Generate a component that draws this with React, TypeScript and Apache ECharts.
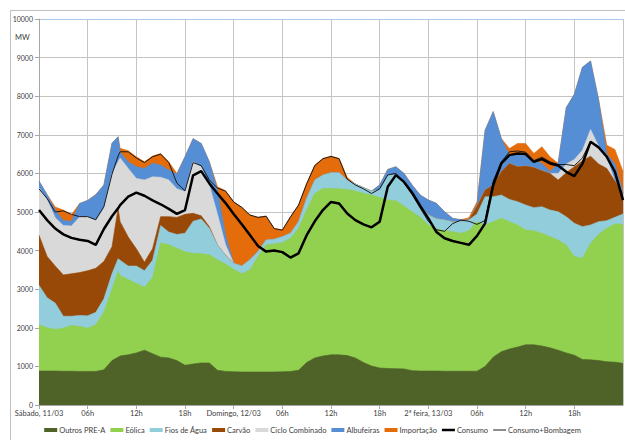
import React, { useEffect, useRef } from 'react';
import * as echarts from 'echarts';

// time in hours from Saturday 11/03 00h
const hours = [0,1,2,3,4,5,6,7,8,9,9.75,10,11,12,13,14,15,16,17,18,19,20,21,22,23,24,25,26,27,28,29,30,31,32,33,34,35,36,37,38,39,40,41,42,43,44,45,46,47,48,49,50,51,52,53,54,55,56,57,58,59,60,61,62,63,64,65,66,67,68,69,70,71,72];

const tickLabels = ['Sábado, 11/03','06h','12h','18h','Domingo, 12/03','06h','12h','18h','2ª feira, 13/03','06h','12h','18h',''];

const outrosPreA = [880,880,880,875,875,870,870,870,910,1150,1240,1270,1300,1350,1420,1330,1240,1220,1150,1030,1060,1090,1090,900,870,860,855,855,855,855,855,860,870,900,1100,1220,1270,1300,1300,1280,1220,1100,1010,960,945,940,935,890,880,880,880,875,875,875,875,875,1000,1240,1380,1450,1500,1560,1560,1530,1480,1420,1350,1290,1180,1170,1150,1120,1110,1080];
const eolica = [1200,1120,1080,1115,1185,1170,1120,1210,1490,1850,2220,2080,1950,1800,1630,1970,2960,2930,2910,2940,2870,2830,2800,2860,2780,2660,2545,2645,2990,3295,3317,3347,3450,3677,3952,4262,4342,4312,4300,4306,4323,4382,4429,4418,4365,4353,4220,4118,3982,3784,3689,3642,3616,3573,3642,3875,3664,3510,3456,3300,3164,2974,2957,2918,2882,2856,2797,2555,2622,3020,3272,3457,3580,3600];
const fiosDeAgua = [1020,780,680,310,240,280,320,320,350,400,330,400,350,450,430,450,450,330,360,480,830,900,687,387,230,153,200,260,129,126,121,155,128,173,301,345,344,405,417,241,181,147,104,190,646,663,586,431,293,258,258,276,259,302,276,200,732,646,603,577,603,647,595,690,690,732,732,862,819,474,328,199,172,270];
const carvao = [1300,1070,960,1070,1100,1110,1170,1140,970,700,1310,1000,750,450,220,300,230,400,440,490,205,80,43,0,0,0,0,0,0,0,0,0,0,0,0,0,0,0,0,0,0,0,0,0,0,0,0,0,0,0,0,0,0,0,0,200,172,302,603,931,905,1008,1043,930,948,819,1138,1465,1706,1783,1491,1353,938,550];
const cicloCombinado = [1230,1470,1250,1280,1240,1440,1400,1240,1380,1900,1200,1650,1780,1820,2130,1860,1020,950,740,585,1335,1272,1080,803,270,0,0,0,0,0,0,0,0,0,0,0,0,0,0,0,0,0,0,0,0,0,0,0,0,0,0,0,0,0,0,0,0,0,0,0,0,0,0,0,0,173,224,189,275,690,465,271,0,0];
const albufeiras = [170,130,200,130,120,350,420,670,600,780,650,150,170,300,300,350,315,255,380,905,600,603,600,618,250,0,0,0,0,0,0,0,0,0,0,0,0,0,0,0,0,0,0,132,147,216,258,259,284,388,397,215,86,50,0,50,1552,1902,862,215,344,284,189,190,50,260,1459,1689,2148,1775,1194,100,450,0];
const importacao = [0,0,80,270,170,0,0,0,0,0,0,100,285,260,170,190,301,215,20,0,0,0,0,87,1151,1594,1520,1162,888,620,284,172,431,431,388,388,431,430,370,69,0,0,0,0,0,0,0,0,0,0,0,0,0,0,57,60,0,0,0,172,259,302,172,431,380,0,0,0,0,0,0,230,370,550];
const consumo = [5050,4790,4570,4420,4330,4280,4250,4150,4560,4890,5095,5180,5400,5500,5420,5300,5200,5080,4950,5050,5950,6060,5740,5480,5230,4950,4680,4405,4120,3974,4000,3960,3820,3930,4400,4760,5050,5260,5220,4960,4790,4680,4603,4750,5655,5956,5780,5500,5160,4836,4480,4319,4250,4200,4150,4380,4707,5700,6258,6473,6516,6500,6300,6370,6258,6206,6042,5930,6250,6818,6671,6430,6042,5310];
const consumoBombagem = [5600,5350,5000,5030,4940,4880,4880,4800,5140,5980,6450,6560,6560,6400,6280,6430,6500,6280,5750,5550,6280,6200,5830,5620,5540,5260,5120,4922,4860,4890,4570,4530,4870,5180,5730,6200,6380,6440,6380,5850,5700,5600,5480,5600,5960,6000,5760,5450,5100,4760,4540,4500,4700,4790,4760,4680,4780,5800,6300,6560,6580,6550,6330,6420,6300,6230,6230,6200,6400,6830,6700,6450,6060,5330];

const FONT = 'Lato, "Open Sans", "DejaVu Sans", sans-serif';

export default function App() {
  const ref = useRef<HTMLDivElement>(null);
  useEffect(() => {
    document.body.style.margin = '0';
    const chart = echarts.init(ref.current!, null, { renderer: 'svg' });
    const areas = [
      { name: 'Outros PRE-A', data: outrosPreA, color: '#4F6228' },
      { name: 'Eólica', data: eolica, color: '#92D050' },
      { name: 'Fios de Água', data: fiosDeAgua, color: '#92CDDC' },
      { name: 'Carvão', data: carvao, color: '#984807' },
      { name: 'Ciclo Combinado', data: cicloCombinado, color: '#D9D9D9' },
      { name: 'Albufeiras', data: albufeiras, color: '#558ED5' },
      { name: 'Importação', data: importacao, color: '#E46C0A' },
    ];
    // stacked tops (stacking done here; lower layers are painted over upper ones)
    const running = hours.map(() => 0);
    const series: any[] = areas.map((a, k) => {
      const tops = hours.map((h, i) => {
        running[i] += a.data[i];
        return [h, running[i]];
      });
      return {
        name: a.name,
        type: 'line',
        data: tops,
        symbol: 'none',
        showSymbol: false,
        lineStyle: { width: 0.6, color: a.color },
        itemStyle: { color: a.color },
        areaStyle: { color: a.color, opacity: 1, origin: 'start' },
        silent: true,
        z: 9 - k,
      };
    });
    series.push({
      name: 'Consumo',
      type: 'line',
      data: hours.map((h, i) => [h, consumo[i]]),
      symbol: 'none',
      showSymbol: false,
      lineStyle: { width: 2.5, color: '#000000' },
      itemStyle: { color: '#000000' },
      silent: true,
      z: 12,
    });
    series.push({
      name: 'Consumo+Bombagem',
      type: 'line',
      data: hours.map((h, i) => [h, consumoBombagem[i]]),
      symbol: 'none',
      showSymbol: false,
      lineStyle: { width: 1, color: '#1a1a1a' },
      itemStyle: { color: '#1a1a1a' },
      silent: true,
      z: 11,
    });

    const gridGray = '#c4c4c4';
    const yLineColors = ['#c4c4c4','#c4c4c4','#c4c4c4','#c4c4c4','#c4c4c4','#c4c4c4','#c4c4c4','#c4c4c4','#c4c4c4','#c4c4c4','#a9c7e8'];

    chart.setOption({
      animation: false,
      backgroundColor: '#ffffff',
      textStyle: { fontFamily: FONT },
      grid: { left: 39, right: 2, top: 19, bottom: 35, containLabel: false },
      xAxis: {
        type: 'value',
        min: 0,
        max: 72,
        interval: 6,
        axisLine: { show: true, lineStyle: { color: '#a6a6a6', width: 1 } },
        axisTick: { show: true, length: 4, lineStyle: { color: '#a6a6a6' } },
        axisLabel: {
          fontSize: 7.5,
          color: '#404040',
          fontFamily: FONT,
          margin: 4,
          showMaxLabel: false,
          formatter: (v: number) => tickLabels[Math.round(v / 6)] ?? '',
        },
        splitLine: { show: true, lineStyle: { color: gridGray, width: 1 } },
      },
      yAxis: {
        type: 'value',
        min: 0,
        max: 10000,
        interval: 1000,
        axisLine: { show: true, lineStyle: { color: '#a6a6a6', width: 1 } },
        axisTick: { show: true, length: 4, lineStyle: { color: '#a6a6a6' } },
        axisLabel: { fontSize: 7, color: '#404040', fontFamily: FONT, margin: 6, formatter: (v: number) => String(v) },
        splitLine: { show: true, lineStyle: { color: yLineColors, width: 1 } },
      },
      legend: {
        bottom: 1,
        left: 'center',
        itemWidth: 13,
        itemHeight: 4,
        itemGap: 5,
        textStyle: { fontSize: 7.5, color: '#404040', fontFamily: FONT, padding: [0, 0, 0, -3] },
        data: [
          { name: 'Outros PRE-A', icon: 'rect' },
          { name: 'Eólica', icon: 'rect' },
          { name: 'Fios de Água', icon: 'rect' },
          { name: 'Carvão', icon: 'rect' },
          { name: 'Ciclo Combinado', icon: 'rect' },
          { name: 'Albufeiras', icon: 'rect' },
          { name: 'Importação', icon: 'rect' },
          { name: 'Consumo', icon: 'path://M0,0H13V2.5H0Z' },
          { name: 'Consumo+Bombagem', icon: 'path://M0,0H13V1H0Z' },
        ],
      },
      graphic: [
        {
          type: 'rect',
          shape: { x: 10.5, y: 10.5, width: 700, height: 600 },
          style: { fill: 'none', stroke: '#bfbfbf', lineWidth: 1 },
          silent: true,
          z: 0,
        },
        {
          type: 'text',
          left: 15,
          top: 33,
          style: { text: 'MW', fontSize: 7.5, fill: '#404040', fontFamily: FONT },
          silent: true,
        },
      ],
      series,
    });
    return () => chart.dispose();
  }, []);
  return <div ref={ref} style={{ width: 625, height: 440 }} />;
}
